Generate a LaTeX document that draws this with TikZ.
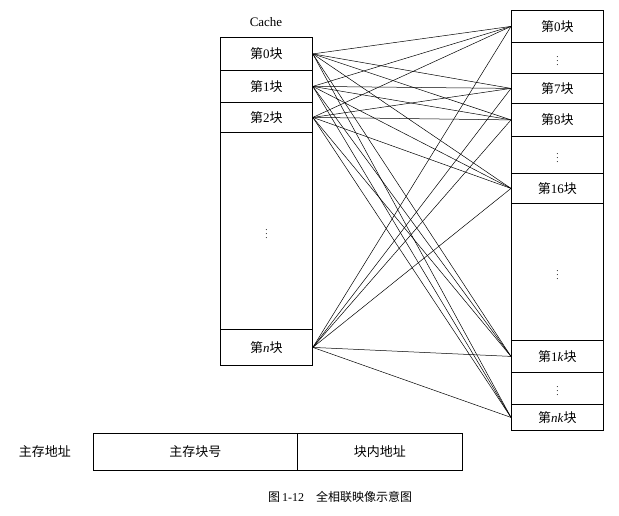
\documentclass[tikz,border=0pt]{standalone}
\usepackage{fontspec}
\setmainfont{Liberation Serif}
\newfontfamily\cjk{Noto Sans CJK SC}
\begin{document}
\begin{tikzpicture}[x=1pt,y=-1pt,
  cell/.style={draw,thick,minimum width=92pt,inner sep=0pt,font=\fontsize{13}{15}\selectfont},
  dots/.style={font=\fontsize{9}{9}\selectfont,inner sep=0pt},
  wire/.style={line width=0.5pt}]
\useasboundingbox (0,0) rectangle (619,515);
\newcommand\blk[1]{{\cjk 第}#1{\cjk 块}}
\newcommand\cellbox[5]{\node[cell,minimum height=#4-#3,anchor=north west] (#1) at (#2,#3) {#5};}
% cache
\node[font=\fontsize{13}{15}\selectfont] at (266,22) {Cache};
\cellbox{c0}{220}{37}{70}{\blk{0}}
\cellbox{c1}{220}{70}{102}{\blk{1}}
\cellbox{c2}{220}{102}{132}{\blk{2}}
\cellbox{cd}{220}{132}{329}{}
\cellbox{cn}{220}{329}{365}{\blk{\textit{n}}}
% main memory
\cellbox{m0}{511}{10}{42}{\blk{0}}
\cellbox{md1}{511}{42}{73}{}
\cellbox{m7}{511}{73}{103}{\blk{7}}
\cellbox{m8}{511}{103}{136}{\blk{8}}
\cellbox{md2}{511}{136}{173}{}
\cellbox{m16}{511}{173}{203}{\blk{16}}
\cellbox{md3}{511}{203}{340}{}
\cellbox{m1k}{511}{340}{372}{\blk{1\textit{k}}}
\cellbox{md4}{511}{372}{404}{}
\cellbox{mnk}{511}{404}{430}{\blk{\textit{nk}}}
\foreach \b in {cd,md1,md2,md3,md4}
  \node[dots] at (\b.center) {$\vdots$};
\foreach \c in {c0,c1,c2,cn}
  \foreach \m in {m0,m7,m8,m16,m1k,mnk}
    \draw[wire] (\c.east) -- (\m.west);
% address
\node[font=\fontsize{13}{15}\selectfont] at (45,452) {\cjk 主存地址};
\node[draw,thick,minimum width=204pt,minimum height=37pt,anchor=north west,inner sep=0pt,font=\fontsize{13}{15}\selectfont] (a1) at (93,433) {\cjk 主存块号};
\node[draw,thick,minimum width=165pt,minimum height=37pt,anchor=north west,inner sep=0pt,font=\fontsize{13}{15}\selectfont] (a2) at (297,433) {\cjk 块内地址};
\node[font=\fontsize{12}{14}\selectfont] at (340,497) {{\cjk 图}\,1-12\quad{\cjk 全相联映像示意图}};
\end{tikzpicture}
\end{document}
